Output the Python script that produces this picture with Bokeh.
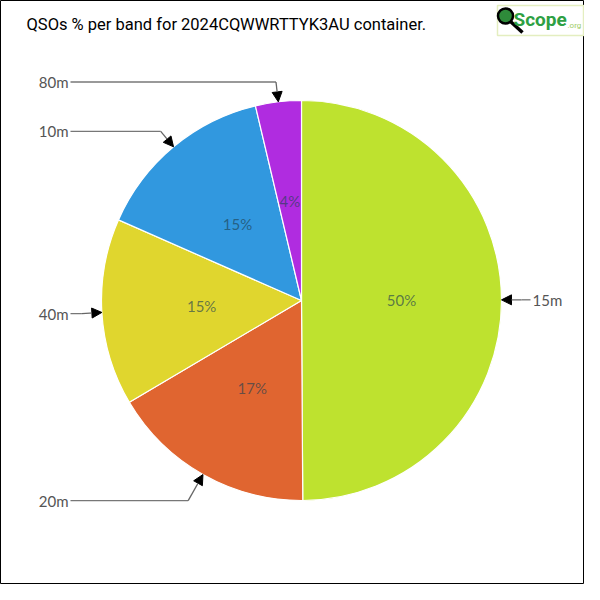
import math
from bokeh.plotting import figure
from bokeh.models import Range1d, ColumnDataSource, Arrow, NormalHead
from bokeh.core.properties import value
from bokeh.embed import file_html
from bokeh.resources import INLINE

# ---- data ----
bands = ["15m", "20m", "40m", "10m", "80m"]
shares = [49.9, 16.6, 15.1, 14.7, 3.7]
colors = ["#BEE22F", "#E06530", "#E0D62E", "#3198DF", "#B02CE0"]
title_text = "QSOs % per band for 2024CQWWRTTYK3AU container."

# ---- layout constants ----
W = H = 584
cx, cy, R = 301, H - 300, 200
elbow_r = [1.1, 1.15, 1.1, 1.1, 1.1]

p = figure(width=W, height=H, output_backend="svg", toolbar_location=None,
           x_range=Range1d(0, W), y_range=Range1d(0, H), min_border=0)
p.axis.visible = False
p.grid.visible = False
p.outline_line_color = "black"
p.outline_line_width = 1
p.background_fill_color = "white"

total = sum(shares)
fracs = [s / total for s in shares]
starts, ends, mids = [], [], []
cum = 0.0
for f in fracs:
    a0 = cum * 2 * math.pi
    a1 = (cum + f) * 2 * math.pi
    starts.append(math.pi / 2 - a0)
    ends.append(math.pi / 2 - a1)
    mids.append((a0 + a1) / 2)
    cum += f

src = ColumnDataSource(dict(x=[cx] * len(bands), y=[cy] * len(bands),
                            s=starts, e=ends, c=colors))
p.wedge(x="x", y="y", radius=R, start_angle="s", end_angle="e", direction="clock",
        fill_color="c", line_color="white", line_width=1.2, source=src)

# inner percentage labels
ix = [cx + 0.5 * R * math.sin(m) for m in mids]
iy = [cy + 0.5 * R * math.cos(m) for m in mids]
pct = [f"{round(f * 100)}%" for f in fracs]
p.text(x=ix, y=iy, text=pct, text_align="center", text_baseline="middle",
       text_font=value("Lato"), text_font_size="15px", text_color="#1f4050",
       text_alpha=0.65)

# outer labels with arrows
tx, ty, ex, ey = [], [], [], []
left_x, right_x = 68, 532
for b, m, er in zip(bands, mids, elbow_r):
    tx.append(cx + R * math.sin(m))
    ty.append(cy + R * math.cos(m))
    ex.append(cx + er * R * math.sin(m))
    ey.append(cy + er * R * math.cos(m))
left_idx = [i for i, m in enumerate(mids) if math.sin(m) < 0]
right_idx = [i for i, m in enumerate(mids) if math.sin(m) >= 0]

seg_x0 = [left_x + 2 if i in left_idx else right_x - 2 for i in range(len(bands))]
p.segment(x0=seg_x0, y0=ey, x1=ex, y1=ey, line_color="#777777", line_width=1.3)

asrc = ColumnDataSource(dict(xs=ex, ys=ey, xe=tx, ye=ty))
p.add_layout(Arrow(end=NormalHead(size=10, fill_color="black", line_color="black"),
                   x_start="xs", y_start="ys", x_end="xe", y_end="ye",
                   line_color="#666666", line_width=1.3, source=asrc))

p.text(x=[left_x] * len(left_idx), y=[ey[i] for i in left_idx],
       text=[bands[i] for i in left_idx], text_align="right", text_baseline="middle",
       text_font=value("Lato"), text_font_size="15px", text_color="#555555")
p.text(x=[right_x] * len(right_idx), y=[ey[i] for i in right_idx],
       text=[bands[i] for i in right_idx], text_align="left", text_baseline="middle",
       text_font=value("Lato"), text_font_size="15px", text_color="#555555")

# title
p.text(x=[26], y=[H - 24], text=[title_text], text_align="left", text_baseline="middle",
       text_font=value("Roboto"), text_font_size="16.5px", text_color="black")

# logo
lx0 = 497
p.rect(x=[lx0 + 43], y=[H - 20], width=86, height=30, fill_color="white",
       line_color="#e4eec0", line_width=1.5)
p.segment(x0=[lx0 + 13], y0=[H - 21], x1=[lx0 + 25], y1=[H - 32],
          line_color="black", line_width=3.5)
p.circle(x=[lx0 + 8], y=[H - 15.5], radius=7.5, fill_color="#2e8b3a",
         line_color="black", line_width=2.5)
p.text(x=[lx0 + 16], y=[H - 19], text=["Scope"], text_align="left", text_baseline="middle",
       text_font=value("Roboto"), text_font_style="bold",
       text_font_size="19px", text_color="#2ea043")
p.text(x=[lx0 + 70], y=[H - 25], text=[".org"], text_align="left", text_baseline="middle",
       text_font=value("Roboto"), text_font_size="8px", text_color="#9ccc65")

open("out.html", "w").write(file_html(p, INLINE))
